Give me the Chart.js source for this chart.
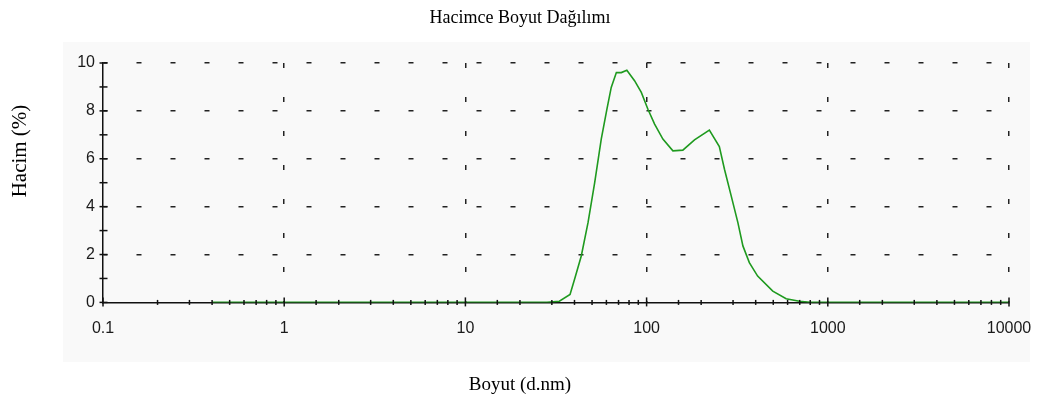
<!DOCTYPE html>
<html>
<head>
<meta charset="utf-8">
<script src="https://cdn.jsdelivr.net/npm/chart.js@4.4.1/dist/chart.umd.min.js"></script>
<style>
  html, body { margin: 0; padding: 0; background: #fff; }
  #wrap { width: 1043px; height: 413px; position: relative; }
</style>
</head>
<body>
<div id="wrap"><canvas id="sizeChart"></canvas></div>
<script>
// Boyut (d.nm) ve Hacim (%) değerleri
const sizes = [0.4, 1, 10, 28.2, 33.0, 37.8, 40.0, 43.6, 47.5, 51.7, 56.2, 60.4, 63.8, 68.1, 72.5, 77.8, 85.8, 93.5, 101.7, 110.7, 123, 139.7, 158.5, 183.8, 222, 252, 269, 293, 319, 340, 369, 410, 497, 589, 697, 800, 1000, 10000];
const volume = [0, 0, 0, 0, 0.05, 0.33, 0.96, 1.94, 3.33, 5.0, 6.82, 8.07, 8.98, 9.6, 9.6, 9.7, 9.26, 8.77, 8.07, 7.45, 6.82, 6.33, 6.36, 6.79, 7.2, 6.51, 5.56, 4.45, 3.33, 2.36, 1.66, 1.1, 0.47, 0.15, 0.05, 0, 0, 0];
const xTickLabels = ['0.1', '1', '10', '100', '1000', '10000'];
const yTickLabels = ['0', '2', '4', '6', '8', '10'];

const serif = "'Liberation Serif', 'Times New Roman', serif";
const sans = "'Liberation Sans', Arial, sans-serif";

const isDecade = (v) => Math.abs(Math.log10(v) - Math.round(Math.log10(v))) < 1e-6;

const panelBg = {
    id: 'panelBg',
    beforeDraw(chart) {
        const ctx = chart.ctx;
        ctx.save();
        ctx.fillStyle = '#f9f9f9';
        ctx.fillRect(63, 42, 967, 320);
        ctx.restore();
    }
};

// kesişen çentikler ve dikey eksen başlığı
const axisMarks = {
    id: 'axisMarks',
    afterDraw(chart) {
        const ctx = chart.ctx;
        const xs = chart.scales.x, ys = chart.scales.y;
        const area = chart.chartArea;
        ctx.save();
        ctx.strokeStyle = '#111';
        ctx.lineWidth = 1.5;
        xs.ticks.forEach(t => {
            const px = xs.getPixelForValue(t.value);
            const up = isDecade(t.value) ? 5 : 2.5;
            const down = isDecade(t.value) ? 4 : 2.5;
            ctx.beginPath();
            ctx.moveTo(px, area.bottom - up);
            ctx.lineTo(px, area.bottom + down);
            ctx.stroke();
        });
        ys.ticks.forEach(t => {
            const py = ys.getPixelForValue(t.value);
            ctx.beginPath();
            ctx.moveTo(area.left - 3.5, py);
            ctx.lineTo(area.left + 4.5, py);
            ctx.stroke();
        });
        ctx.translate(20, 151);
        ctx.rotate(-Math.PI / 2);
        ctx.fillStyle = '#000';
        ctx.font = '21px ' + serif;
        ctx.textAlign = 'center';
        ctx.textBaseline = 'middle';
        ctx.fillText('Hacim (%)', 0, 0);
        ctx.restore();
    }
};

new Chart(document.getElementById('sizeChart'), {
    type: 'line',
    data: {
        datasets: [{
            label: 'Hacim',
            data: sizes.map((s, i) => ({ x: s, y: volume[i] })),
            borderColor: '#1f9a1f',
            borderWidth: 1.6,
            pointRadius: 0,
            tension: 0,
            fill: false
        }]
    },
    options: {
        responsive: true,
        maintainAspectRatio: false,
        animation: false,
        layout: { padding: { left: 31, right: 34, top: 0, bottom: 0 } },
        plugins: {
            legend: { display: false },
            tooltip: { enabled: false },
            title: {
                display: true,
                text: 'Hacimce Boyut Dağılımı',
                color: '#000',
                font: { family: serif, size: 18, weight: 'normal' },
                padding: { top: 7.2, bottom: 34.2 }
            },
            subtitle: {
                display: true,
                position: 'bottom',
                text: 'Boyut (d.nm)',
                color: '#000',
                font: { family: serif, size: 19, weight: 'normal' },
                padding: { top: 0, bottom: 16.6 }
            }
        },
        scales: {
            x: {
                type: 'logarithmic',
                min: 0.1,
                max: 10000,
                afterFit: (s) => { s.height = 71.2; },
                border: { display: true, color: '#111', width: 1.5, dash: [5, 29], dashOffset: 0 },
                grid: {
                    drawTicks: true,
                    tickLength: 15,
                    tickColor: 'rgba(0,0,0,0)',
                    lineWidth: 1.5,
                    color: (c) => (c.tick && isDecade(c.tick.value) && c.tick.value > 0.11) ? '#222' : 'rgba(0,0,0,0)'
                },
                ticks: {
                    autoSkip: false,
                    maxRotation: 0,
                    padding: 2,
                    color: '#1a1a1a',
                    font: { family: sans, size: 16 },
                    callback: (v) => isDecade(v) ? xTickLabels[Math.round(Math.log10(v)) + 1] : ''
                }
            },
            y: {
                min: 0,
                max: 10,
                afterFit: (s) => { s.width = 72; },
                border: { display: true, color: '#111', width: 1.5, dash: [5, 29], dashOffset: 1 },
                grid: {
                    drawTicks: false,
                    lineWidth: 1.5,
                    color: (c) => (c.tick && c.tick.value > 0 && c.tick.value % 2 === 0) ? '#222' : 'rgba(0,0,0,0)'
                },
                ticks: {
                    stepSize: 1,
                    padding: 8,
                    color: '#1a1a1a',
                    font: { family: sans, size: 16 },
                    callback: (v) => v % 2 === 0 ? yTickLabels[v / 2] : ''
                }
            }
        }
    },
    plugins: [panelBg, axisMarks]
});
</script>
</body>
</html>
